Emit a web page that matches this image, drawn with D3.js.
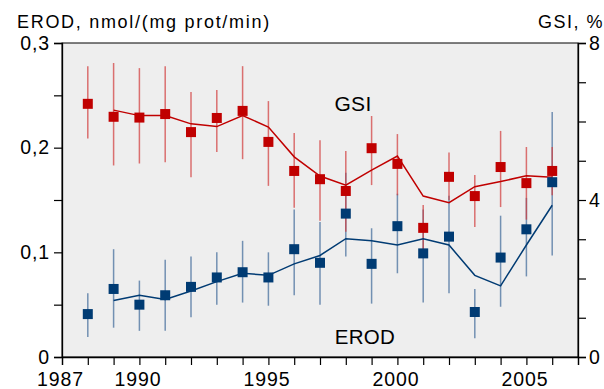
<!DOCTYPE html>
<html>
<head>
<meta charset="utf-8">
<script src="https://cdn.jsdelivr.net/npm/d3@7"></script>
<style>
body { margin: 0; background: #fff; }
text { font-family: "Liberation Sans", Arial, sans-serif; }
</style>
</head>
<body>
<div id="chart"></div>
<script>
"use strict"
var width = 604,
	height = 389;

// years with observations
var years = [1988,1989,1990,1991,1992,1993,1994,1995,1996,1997,1998,1999,2000,2001,2002,2003,2004,2005,2006];

// GSI, % (right axis)
var gsiMean = [6.45,6.12,6.10,6.19,5.73,6.09,6.27,5.48,4.74,4.53,4.23,5.32,4.92,3.29,4.59,4.10,4.84,4.43,4.74];
var gsiLo   = [5.57,4.88,4.93,4.96,4.58,5.22,5.04,4.36,3.80,3.47,3.19,4.38,4.12,2.72,4.00,3.31,3.82,3.50,4.12];
var gsiHi   = [7.41,7.49,7.36,7.41,6.75,6.80,7.41,6.52,5.71,5.52,5.25,6.14,5.68,3.87,5.21,4.64,5.76,5.35,5.35];
var gsiLineYears = [1989,1990,1991,1992,1993,1994,1995,1996,1997,1998,1999,2000,2001,2002,2003,2004,2005,2006];
var gsiLine = [6.29,6.15,6.15,5.94,5.87,6.15,5.86,5.10,4.61,4.38,4.76,5.12,4.10,3.93,4.34,4.47,4.62,4.58];

// EROD, nmol/(mg prot/min) (left axis)
var erodMean = [0.041,0.065,0.050,0.059,0.067,0.076,0.081,0.076,0.103,0.090,0.137,0.089,0.125,0.099,0.115,0.043,0.095,0.122,0.167];
var erodLo   = [0.019,0.028,0.025,0.025,0.038,0.050,0.052,0.049,0.059,0.050,0.096,0.051,0.080,0.052,0.061,0.018,0.048,0.077,0.097];
var erodHi   = [0.061,0.103,0.073,0.093,0.096,0.100,0.111,0.100,0.141,0.129,0.176,0.123,0.156,0.141,0.154,0.065,0.135,0.152,0.234];
var erodLineYears = gsiLineYears;
var erodLine = [0.054,0.059,0.055,0.063,0.072,0.080,0.078,0.089,0.097,0.113,0.111,0.107,0.113,0.107,0.078,0.068,0.107,0.145];

var leftTicks = [0,0.05,0.1,0.15,0.2,0.25,0.3];
var leftLabels = [0,0.1,0.2,0.3];
var rightTicks = [0,1,2,3,4,5,6,7,8];
var rightLabels = [0,4,8];
var yearLabels = [1987,1990,1995,2000,2005];

var red = "#c00000", blue = "#003b73";

var svg = d3.select("#chart").append("svg")
	.attr("width",width)
	.attr("height",height);

var pl = 62, pr = 578, pt = 43, pb = 357;

var x = d3.scaleLinear().domain([1987,2007]).range([pl,pr]);
var yE = d3.scaleLinear().domain([0,0.3]).range([pb,pt]);
var yG = d3.scaleLinear().domain([0,8]).range([pb,pt]);

// plot background
svg.append("rect")
	.attr("x",pl).attr("y",pt)
	.attr("width",pr-pl).attr("height",pb-pt)
	.style("fill","#eeeeee")
	.style("stroke","#000")
	.style("stroke-width",1);

var fmt = function(d){ return d3.format(".1~f")(d).replace(".",","); };

var axL = svg.append("g").attr("transform","translate("+pl+",0)")
	.call(d3.axisLeft(yE).tickValues(leftTicks).tickSize(8)
		.tickFormat(function(d){ return leftLabels.some(function(v){return Math.abs(v-d)<1e-9;}) ? fmt(d) : ""; }));
var axR = svg.append("g").attr("transform","translate("+pr+",0)")
	.call(d3.axisRight(yG).tickValues(rightTicks).tickSize(8)
		.tickFormat(function(d){ return rightLabels.indexOf(d)>=0 ? d : ""; }));
var axB = svg.append("g").attr("transform","translate(0,"+pb+")")
	.call(d3.axisBottom(x).ticks(20).tickSize(8)
		.tickFormat(function(d){ return yearLabels.indexOf(d)>=0 ? d : ""; }));

[axL,axR,axB].forEach(function(a){
	a.selectAll("text").style("font-size","19.5px").attr("fill","#000")
		.style("letter-spacing","0.9px")
		.style("font-family","'Liberation Sans', Arial, sans-serif");
	a.select(".domain").attr("stroke","#000").attr("stroke-width",1.3);
	a.selectAll(".tick line").attr("stroke","#000").attr("stroke-width",1.2);
});
axB.selectAll("text").attr("dy","0.92em").attr("dx","-2px");
axL.selectAll("text").attr("x",-12);

// error bars
svg.append("g").selectAll("line").data(years).enter().append("line")
	.attr("x1",function(d){return x(d);}).attr("x2",function(d){return x(d);})
	.attr("y1",function(d,i){return yE(erodLo[i]);})
	.attr("y2",function(d,i){return yE(erodHi[i]);})
	.style("stroke","#5479a4").style("stroke-width",1.5).style("opacity",0.8);
svg.append("g").selectAll("line").data(years).enter().append("line")
	.attr("x1",function(d){return x(d);}).attr("x2",function(d){return x(d);})
	.attr("y1",function(d,i){return yG(gsiLo[i]);})
	.attr("y2",function(d,i){return yG(gsiHi[i]);})
	.style("stroke","#d23a3a").style("stroke-width",1.5).style("opacity",0.7);

// trend lines
var lineE = d3.line().x(function(d,i){return x(erodLineYears[i]);}).y(function(d){return yE(d);});
var lineG = d3.line().x(function(d,i){return x(gsiLineYears[i]);}).y(function(d){return yG(d);});
svg.append("path").datum(erodLine).attr("d",lineE)
	.style("fill","none").style("stroke",blue).style("stroke-width",1.5);
svg.append("path").datum(gsiLine).attr("d",lineG)
	.style("fill","none").style("stroke",red).style("stroke-width",1.5);

// markers
var s = 10;
svg.append("g").selectAll("rect").data(years).enter().append("rect")
	.attr("x",function(d){return x(d)-s/2;})
	.attr("y",function(d,i){return yG(gsiMean[i])-s/2;})
	.attr("width",s).attr("height",s)
	.style("fill",red);
svg.append("g").selectAll("rect").data(years).enter().append("rect")
	.attr("x",function(d){return x(d)-s/2;})
	.attr("y",function(d,i){return yE(erodMean[i])-s/2;})
	.attr("width",s).attr("height",s)
	.style("fill",blue);

// labels
svg.append("text").attr("x",17).attr("y",28).text("EROD, nmol/(mg prot/min)")
	.style("font-size","18px").style("letter-spacing","1.7px");
svg.append("text").attr("x",604).attr("y",28).attr("text-anchor","end").text("GSI, %")
	.style("font-size","18px").style("letter-spacing","1.5px");
svg.append("text").attr("x",353).attr("y",111).attr("text-anchor","middle").text("GSI")
	.style("font-size","21px").style("letter-spacing","0.3px");
svg.append("text").attr("x",365).attr("y",344).attr("text-anchor","middle").text("EROD")
	.style("font-size","20.5px").style("letter-spacing","0.3px");
</script>
</body>
</html>
